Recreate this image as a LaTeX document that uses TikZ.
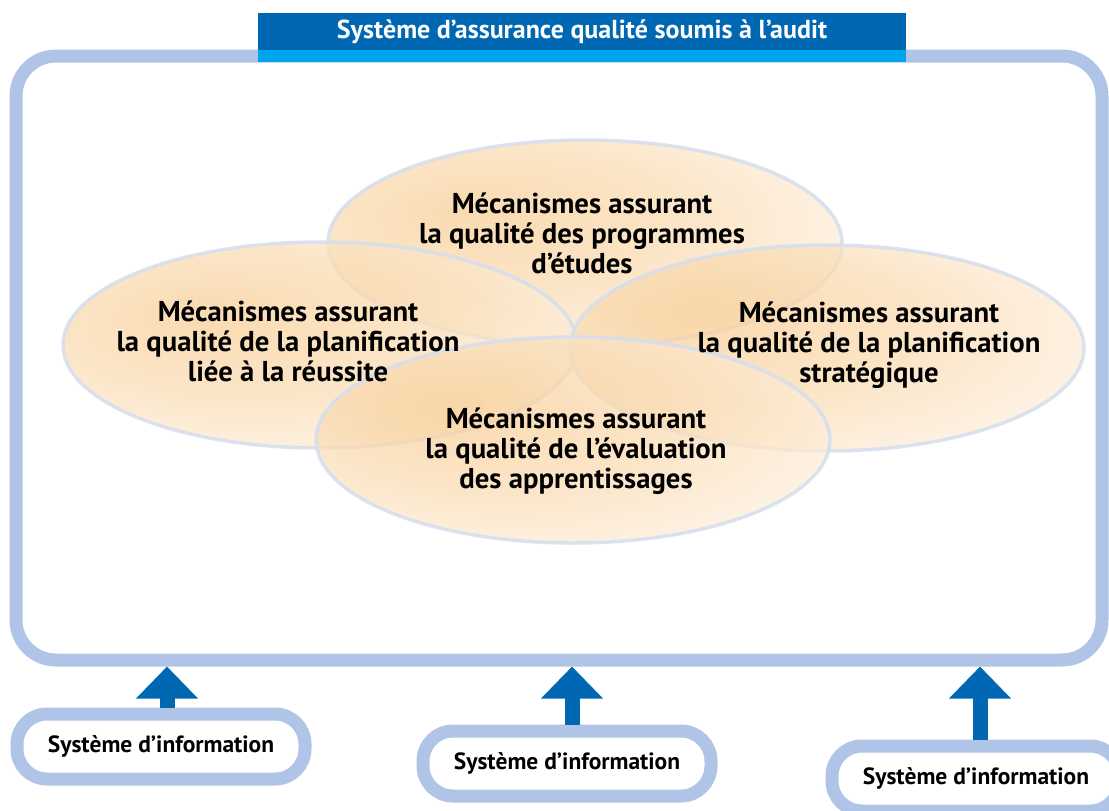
\documentclass[tikz,border=0pt]{standalone}
\usepackage{fontspec}
\setmainfont{PT Sans}
\usetikzlibrary{arrows.meta,shapes.geometric}

\definecolor{framebl}{HTML}{AFC4E6}
\definecolor{darkbl}{HTML}{0068B3}
\definecolor{stripbl}{HTML}{00A4EA}
\definecolor{glowin}{HTML}{F7CE96}
\definecolor{glowmid}{HTML}{FADDB6}
\definecolor{glowout}{HTML}{FFF4E8}
\definecolor{rim}{HTML}{D5DEEE}

\pgfdeclareradialshading{glow}{\pgfpoint{-12bp}{8bp}}{color(0bp)=(glowin); color(18bp)=(glowmid); color(36bp)=(glowout); color(50bp)=(white)}

\tikzset{
	frame/.style = {draw = framebl, line width = 13pt, rounded corners = 40pt},
	blob/.style = {ellipse, shading = glow, fill opacity = 0.75, draw = rim, draw opacity = 0.85, line width = 3.5pt, minimum width = 514pt, minimum height = 206pt},
	lbl/.style = {align = center, font = \bfseries\fontsize{28.7}{30}\selectfont},
	infobox/.style = {draw = framebl, fill = white, line width = 13pt, rounded corners = 30pt, minimum width = 288pt, minimum height = 65pt, font = \bfseries\fontsize{23.5}{27}\selectfont},
	uparrow/.style = {darkbl, line width = 15pt, -{Triangle[width = 60pt, length = 32pt]}}
}

\begin{document}
\begin{tikzpicture}[x = 1pt, y = -1pt]
	\useasboundingbox (0, 0) rectangle (1109, 811);
	
	\node [frame, minimum width = 1086pt, minimum height = 604pt] (frame) at (559, 358) {};
	
	\node [fill = darkbl, text = white, minimum width = 648pt, minimum height = 37pt, inner sep = 0pt, font = \bfseries\fontsize{26}{30}\selectfont] (title) at (582, 31.5) {Système d’assurance qualité soumis à l’audit};
	\fill [stripbl] (title.south west) rectangle ++(648, 12);
	
	\node [blob] (ellTop) at (585, 243) {};
	\node [blob] (ellLeft) at (320, 345) {};
	\node [blob] (ellRight) at (827, 348) {};
	\node [blob] (ellBottom) at (573, 440) {};
	
	\node [lbl] (txtTop) at (582, 233) {Mécanismes assurant\\la qualité des programmes\\d’études};
	\node [lbl] (txtLeft) at (288, 341) {Mécanismes assurant\\la qualité de la planification\\liée à la réussite};
	\node [lbl] (txtRight) at (869, 345) {Mécanismes assurant\\la qualité de la planification\\stratégique};
	\node [lbl] (txtBottom) at (576, 451) {Mécanismes assurant\\la qualité de l’évaluation\\des apprentissages};
	
	\node [infobox] (info1) at (161, 746.5) {Système d’information};
	\node [infobox] (info2) at (567, 763.5) {Système d’information};
	\node [infobox] (info3) at (976, 778.5) {Système d’information};
	
	\draw [uparrow] ([xshift = 6pt]info1.north) -- ([xshift = 6pt]info1.north |- frame.south);
	\draw [uparrow] ([xshift = 5pt]info2.north) -- ([xshift = 5pt]info2.north |- frame.south);
	\draw [uparrow] ([xshift = 4pt]info3.north) -- ([xshift = 4pt]info3.north |- frame.south);
\end{tikzpicture}
\end{document}
